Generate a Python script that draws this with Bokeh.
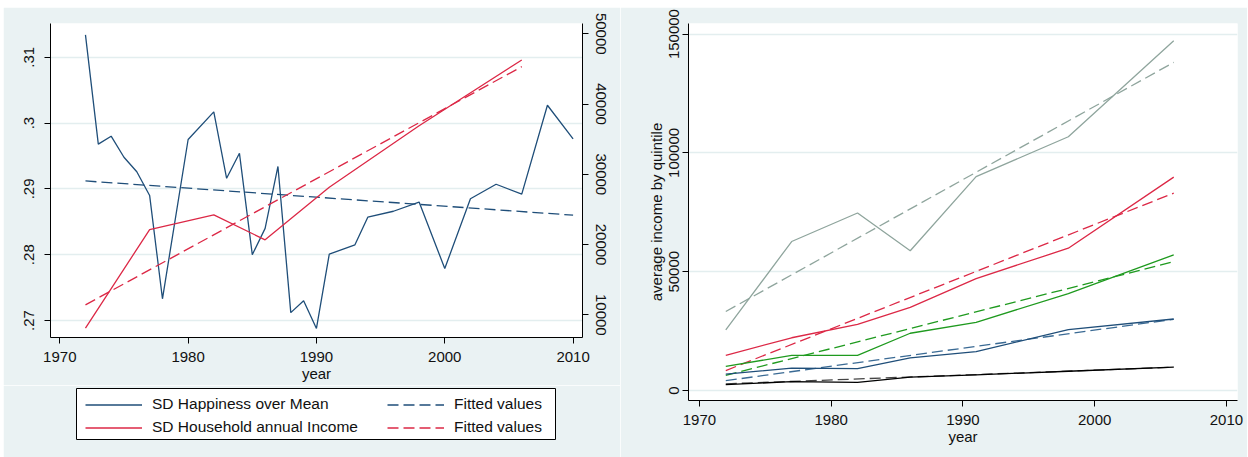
from bokeh.plotting import figure
from bokeh.models import (Range1d, LinearAxis, FixedTicker, Legend, LegendItem,
                          NumeralTickFormatter, Spacer)
from bokeh.layouts import row, column
from bokeh.embed import file_html
from bokeh.resources import INLINE

# ---------------- data: left panel ----------------
happy_years = [1972, 1973, 1974, 1975, 1976, 1977, 1978, 1980, 1982, 1983, 1984,
               1985, 1986, 1987, 1988, 1989, 1990, 1991, 1993, 1994, 1996, 1998,
               2000, 2002, 2004, 2006, 2008, 2010]
sd_happy = [0.3134, 0.2968, 0.2980, 0.2948, 0.2926, 0.2890, 0.2733, 0.2975, 0.3017,
            0.2916, 0.2954, 0.2800, 0.2840, 0.2934, 0.2712, 0.2730, 0.2688, 0.2801,
            0.2815, 0.2857, 0.2866, 0.2880, 0.2779, 0.2885, 0.2907, 0.2892, 0.3027,
            0.2976]
happy_fit_years = [1972, 2010]
happy_fit = [0.2912, 0.2860]

inc_years = [1972, 1977, 1982, 1986, 1991, 1998, 2006]
sd_income = [8100, 22130, 24230, 20670, 28150, 36900, 46270]
inc_fit_years = [1972, 2006]
inc_fit = [11420, 45320]

left_ticks = [0.27, 0.28, 0.29, 0.30, 0.31]
left_tick_labels = [".27", ".28", ".29", ".3", ".31"]
right_ticks = [10000, 20000, 30000, 40000, 50000]
year_ticks = [1970, 1980, 1990, 2000, 2010]
legend_col1 = ["SD Happiness over Mean", "SD Household annual Income"]
legend_col2 = ["Fitted values", "Fitted values"]

# ---------------- data: right panel ----------------
q_years = [1972, 1977, 1982, 1986, 1991, 1998, 2006]
q5_income = [25500, 62700, 74700, 58800, 90000, 106800, 147200]
q4_income = [14800, 22200, 27800, 35000, 47100, 59900, 89800]
q3_income = [10150, 14800, 14800, 24100, 28700, 40800, 57100]
q2_income = [6900, 9400, 9250, 13700, 16400, 25600, 30100]
q1_income = [2500, 3700, 3400, 5600, 6600, 8100, 9800]
q_fit_years = [1972, 2006]
q5_fit = [33250, 138100]
q4_fit = [8400, 83060]
q3_fit = [6400, 54200]
q2_fit = [4140, 29970]
q1_fit = [2800, 9800]
quintile_ticks = [0, 50000, 100000, 150000]

# ---------------- style ----------------
BG = "#eaf2f3"
GRID = "#e3eeef"
FONT = "Liberation Sans"
NAVY = "#1f4e79"
RED = "#dc2846"
GREEN = "#1f9a1f"
GRAY = "#8fa59d"
BLACK = "#000000"
DASH = "11 5"
LW = 1.3


def style_axis(ax):
    ax.axis_line_color = "black"
    ax.axis_line_width = 1
    ax.major_tick_line_color = "black"
    ax.minor_tick_line_color = None
    ax.major_tick_out = 6
    ax.major_tick_in = 0
    ax.major_label_text_font = FONT
    ax.major_label_text_font_size = "15px"
    ax.major_label_text_color = "#111111"
    ax.axis_label_text_font = FONT
    ax.axis_label_text_font_size = "15px"
    ax.axis_label_text_font_style = "normal"
    ax.axis_label_text_color = "#111111"


# ---------------- left figure (plot) ----------------
p1 = figure(width=617, height=378, output_backend="svg", toolbar_location=None,
            x_range=Range1d(1969.275, 2010.733), y_range=Range1d(0.26742, 0.31512),
            min_border_left=47, min_border_right=38, min_border_top=16,
            min_border_bottom=48, background_fill_color="white",
            border_fill_color=BG, outline_line_color=None)
p1.frame_align = False
p1.extra_y_ranges = {"inc": Range1d(6769, 51466)}

p1.xaxis.ticker = FixedTicker(ticks=year_ticks)
p1.xaxis.axis_label = "year"
p1.xaxis.major_label_standoff = 8
p1.xaxis.axis_label_standoff = 0
p1.yaxis.ticker = FixedTicker(ticks=left_ticks)
p1.yaxis.major_label_overrides = dict(zip(left_ticks, left_tick_labels))
p1.yaxis.major_label_orientation = "vertical"
p1.yaxis.major_label_standoff = 10
ax_r = LinearAxis(y_range_name="inc", ticker=FixedTicker(ticks=right_ticks),
                  formatter=NumeralTickFormatter(format="0"))
p1.add_layout(ax_r, "right")
ax_r.major_label_orientation = "vertical"
ax_r.major_label_standoff = 7
for ax in p1.xaxis + p1.yaxis + [ax_r]:
    style_axis(ax)
p1.xgrid.visible = False
p1.ygrid.grid_line_color = GRID
p1.ygrid.grid_line_width = 1.5

p1.line(happy_years, sd_happy, line_color=NAVY, line_width=LW)
p1.line(happy_fit_years, happy_fit, line_color=NAVY, line_width=LW, line_dash=DASH)
p1.line(inc_years, sd_income, y_range_name="inc", line_color=RED, line_width=LW)
p1.line(inc_fit_years, inc_fit, y_range_name="inc", line_color=RED,
        line_width=LW, line_dash=DASH)

# ---------------- left figure (legend strip; its frame is the legend box) ----
pl = figure(width=617, height=72, output_backend="svg", toolbar_location=None,
            x_axis_type=None, y_axis_type=None,
            x_range=Range1d(0, 1), y_range=Range1d(0, 1),
            min_border_left=73, min_border_right=65, min_border_top=3,
            min_border_bottom=18, background_fill_color="white",
            border_fill_color=BG, outline_line_color="black",
            outline_line_width=1)
pl.frame_align = False
pl.grid.visible = False

# legend sample renderers: the real series, lying outside this strip's 0..1 range
h_r = pl.line(happy_years, sd_happy, line_color=NAVY, line_width=LW)
i_r = pl.line(inc_years, sd_income, line_color=RED, line_width=LW)
hf_r = pl.line(happy_fit_years, happy_fit, line_color=NAVY, line_width=LW,
               line_dash=DASH)
if_r = pl.line(inc_fit_years, inc_fit, line_color=RED, line_width=LW,
               line_dash=DASH)


def make_legend(labels, rends, loc):
    lg = Legend(items=[LegendItem(label=l, renderers=[r]) for l, r in zip(labels, rends)],
                location=loc)
    lg.label_text_font = FONT
    lg.label_text_font_size = "15.5px"
    lg.label_text_color = "#111111"
    lg.glyph_width = 57
    lg.glyph_height = 17
    lg.label_height = 17
    lg.label_standoff = 10
    lg.spacing = 5
    lg.padding = 0
    lg.margin = 0
    lg.border_line_color = None
    lg.background_fill_alpha = 0
    return lg


pl.add_layout(make_legend(legend_col1, [h_r, i_r], (9, 3)), "center")
pl.add_layout(make_legend(legend_col2, [hf_r, if_r], (311, 3)), "center")

# ---------------- right figure ----------------
p2 = figure(width=627, height=450, output_backend="svg", toolbar_location=None,
            x_range=Range1d(1969.17, 2010.84), y_range=Range1d(-4205, 154458),
            min_border_left=68, min_border_right=10, min_border_top=16,
            min_border_bottom=57, background_fill_color="white",
            border_fill_color=BG, outline_line_color=None)
p2.frame_align = False
p2.xaxis.ticker = FixedTicker(ticks=year_ticks)
p2.xaxis.axis_label = "year"
p2.xaxis.major_label_standoff = 8
p2.xaxis.axis_label_standoff = 0
p2.yaxis.ticker = FixedTicker(ticks=quintile_ticks)
p2.yaxis.formatter = NumeralTickFormatter(format="0")
p2.yaxis.major_label_orientation = "vertical"
p2.yaxis.major_label_standoff = 3
p2.yaxis.axis_label = "average income by quintile"
p2.yaxis.axis_label_standoff = 2
for ax in p2.xaxis + p2.yaxis:
    style_axis(ax)
p2.xgrid.visible = False
p2.ygrid.grid_line_color = GRID
p2.ygrid.grid_line_width = 1.5

for vals, fit, col, fcol in [(q5_income, q5_fit, GRAY, GRAY),
                             (q4_income, q4_fit, RED, RED),
                             (q3_income, q3_fit, GREEN, GREEN),
                             (q2_income, q2_fit, NAVY, "#3a6a94"),
                             (q1_income, q1_fit, BLACK, "#444444")]:
    p2.line(q_fit_years, fit, line_color=fcol, line_width=LW, line_dash=DASH)
    p2.line(q_years, vals, line_color=col, line_width=LW)

left = column(p1, pl)
layout = column(Spacer(height=7), row(Spacer(width=3), left, p2))
open("out.html", "w").write(file_html(layout, INLINE))
